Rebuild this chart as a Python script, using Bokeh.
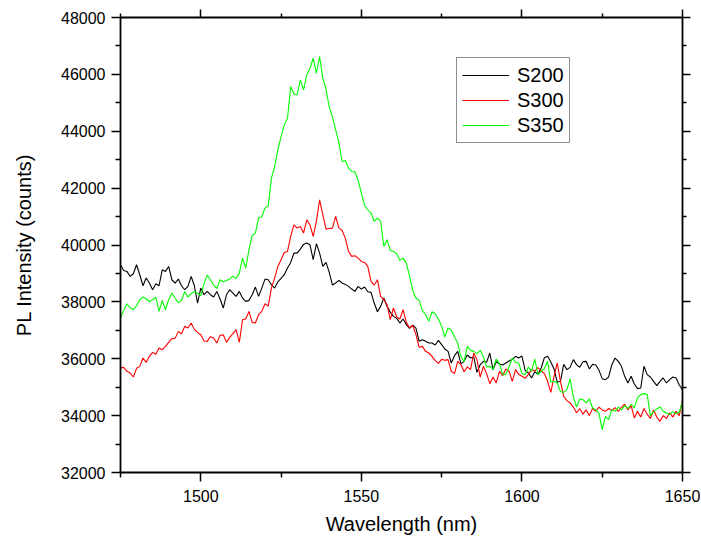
from bokeh.plotting import figure
from bokeh.models import (Range1d, LinearAxis, FixedTicker, Legend, LegendItem,
                          BasicTickFormatter, CustomJSTickFormatter)
from bokeh.embed import file_html
from bokeh.resources import INLINE

# ---------------- data ----------------
wl_first, wl_last = 1475, 1650
wavelength = list(range(wl_first, wl_last + 1))

s200 = [
    39305, 39106, 39071, 38895, 38989, 39305, 38954, 38567, 38837, 38661,
    38427, 38638, 38567, 39129, 39071, 39246, 38778, 38661, 38801, 38567,
    38427, 38544, 38895, 38567, 37958, 38485, 38251, 38368, 38251, 38169,
    38368, 38099, 37783, 38251, 38427, 38310, 38193, 38368, 38134, 38017,
    38052, 38251, 38520, 38193, 38485,
    38802, 38779, 38603, 38486, 38700, 38826, 38955, 39189, 39388, 39716,
    39716, 39856, 40020, 40067, 40008, 39481, 40044, 39716, 39247, 39388,
    39036, 38591, 38662, 38755, 38662, 38615, 38545, 38451, 38369, 38545,
    38451, 38521, 38357, 38334, 37959, 37655, 37842, 38135, 37842, 37631,
    37491, 37420, 37256, 37397,
    37197, 37068, 37185, 37080, 36612, 36670, 36612, 36553, 36553, 36483,
    36647, 36495, 36343, 36261, 35851, 36108, 36261, 35827, 35909, 36131,
    36026, 36061, 35523, 35792, 35909, 35874, 36202, 35616, 35897, 35815,
    35780, 35851, 35921, 35979, 36085, 36026, 36096, 35593, 35499, 35324,
    35546, 35452, 35675, 36038, 36085,
    35886, 35640, 35172, 35207, 35804, 35617, 35698, 35968, 35792, 35700,
    35898, 35909, 35640, 35804, 35780, 35593, 35300, 35265, 35359, 35792,
    36026, 35909, 35734, 35382, 35148, 35382, 35113, 34949, 34972, 35734,
    35441, 35359, 35207, 35055, 35207, 35324, 35148, 35265, 35359, 35324,
    35078, 34914,
]

s300 = [
    35675, 35698, 35558, 35499, 35359, 35663, 35733, 36026, 35874, 36085,
    36225, 36155, 36377, 36319, 36436, 36577, 36705, 36717, 36963, 36881,
    37139, 37080, 37256, 37033, 36928, 36846, 36623, 36612, 36776, 36729,
    36553, 36822, 36846, 36577, 36752, 36881, 37022, 36577, 37373, 37396,
    37666, 37279, 37256, 37549, 37666,
    37936, 37850, 38486, 38837, 39247, 39481, 39739, 39774, 40301, 40711,
    40594, 40652, 40418, 40887, 40711, 40301, 40828, 41589, 41062, 40559,
    40582, 40594, 41004, 40594, 40512, 40243, 39774, 39599, 39622, 39540,
    39423, 39388, 39247, 38720, 38591, 38779, 38193, 38076, 37901, 37374,
    37784, 37467, 37397, 37725,
    37279, 37092, 37174, 36846, 36401, 36436, 36261, 36202, 36085, 35933,
    35839, 35980, 35944, 35968, 35558, 35476, 35909, 35792, 35546, 35710,
    35616, 36202, 35968, 35359, 35733, 35476, 35124, 35359, 35148, 35558,
    35406, 35640, 35558, 35206, 35616, 35452, 35382, 35312, 35452, 35616,
    35569, 35687, 35569, 35476, 35206,
    34820, 35382, 35851, 35207, 34680, 34527, 34446, 34300, 34100, 34250,
    34050, 34200, 34000, 34250, 34150, 34300, 34200, 34150, 34250, 34180,
    34280, 34150, 34300, 34400, 34200, 34350, 33919, 34150, 33950, 34250,
    34050, 33900, 34200, 33950, 33800, 34000, 33900, 34100, 33950, 34150,
    34000, 34550,
]

s350 = [
    37431, 37701, 37935, 37794, 37724, 37865, 38075, 38169, 38110, 38005,
    38075, 38169, 37666, 38052, 37724, 38075, 38310, 38134, 37970, 38052,
    38368, 38169, 38286, 38356, 38310, 38216, 38638, 38942, 38778, 38591,
    38474, 38778, 38708, 38755, 38801, 38907, 38825, 39012, 39539, 39188,
    39832, 40335, 40417, 40944, 41003,
    41297, 41378, 42350, 42760, 43346, 43814, 44224, 44458, 45571, 45313,
    45278, 45805, 45454, 45980, 46215, 46566, 46039, 46625, 45863, 45477,
    44845, 44517, 44048, 43603, 42936, 42971, 42702, 42585, 42573, 42269,
    41823, 41390, 41238, 41132, 40828, 40945, 40828, 39950, 40184, 39809,
    39774, 39692, 39458, 39540,
    39364, 38918, 38403, 38134, 38052, 37701, 37548, 37314, 37654, 37584,
    37396, 37139, 36764, 37080, 37000, 36764, 36553, 36085, 35897, 36436,
    36295, 36260, 36180, 36295, 36061, 35710, 35733, 35640, 35991, 35827,
    35440, 35452, 35710, 36026, 35874, 35851, 35476, 35441, 35710, 35558,
    35991, 35429, 35569, 35663, 35909,
    35172, 35207, 35148, 34844, 34820, 34914, 35289, 34656, 34305, 34586,
    34563, 34446, 34586, 34270, 34211, 34071, 33509, 33977, 33860, 34211,
    34150, 34300, 34200, 34350, 34250, 34400, 34270, 34621, 34738, 34773,
    34750, 34001, 34141, 34235, 34305, 34153, 34094, 34036, 34141, 34071,
    34118, 34504,
]

series_names = ["S200", "S300", "S350"]
series_colors = ["#000000", "#ff0000", "#00ff00"]

x_major_ticks = [1500, 1550, 1600, 1650]
x_minor_ticks = [1475, 1525, 1575, 1625]
y_major_ticks = list(range(32000, 48001, 2000))
y_minor_ticks = list(range(33000, 48000, 2000))

assert len(s200) == len(s300) == len(s350) == len(wavelength)

# ---------------- figure ----------------
FONT = "Liberation Sans"

p = figure(width=700, height=537, output_backend="svg", toolbar_location=None,
           x_range=Range1d(1475, 1650), y_range=Range1d(32000, 48000),
           min_border_left=120, min_border_right=18,
           min_border_top=17, min_border_bottom=65,
           background_fill_color="white", border_fill_color="white")
p.outline_line_color = None
p.grid.visible = False

renderers = []
for ys, c in zip([s200, s300, s350], series_colors):
    r = p.line(wavelength, ys, line_color=c, line_width=1.1)
    renderers.append(r)


def style_axis(ax, major, minor, show_labels):
    ax.ticker = FixedTicker(ticks=major, minor_ticks=minor)
    ax.axis_line_color = "black"
    ax.axis_line_width = 1.8
    ax.major_tick_line_color = "black"
    ax.minor_tick_line_color = "black"
    ax.major_tick_line_width = 1.5
    ax.minor_tick_line_width = 1.5
    ax.major_tick_in = 0
    ax.minor_tick_in = 0
    ax.major_tick_out = 9
    ax.minor_tick_out = 5
    if show_labels:
        ax.major_label_text_font = FONT
        ax.major_label_text_font_size = "16px"
        ax.major_label_text_color = "black"
        ax.axis_label_text_font = FONT
        ax.axis_label_text_font_size = "20px"
        ax.axis_label_text_font_style = "normal"
        ax.axis_label_text_color = "black"
    else:
        ax.formatter = CustomJSTickFormatter(code="return '';")
        ax.major_label_standoff = 0
        ax.major_tick_out = 8
        ax.minor_tick_out = 4


xax = p.xaxis[0]
style_axis(xax, x_major_ticks, x_minor_ticks, True)
xax.axis_label = "Wavelength (nm)"
xax.major_label_standoff = 8
xax.axis_label_standoff = 8

yax = p.yaxis[0]
style_axis(yax, y_major_ticks, y_minor_ticks, True)
yax.formatter = BasicTickFormatter(use_scientific=False)
yax.axis_label = "PL Intensity (counts)"
yax.major_label_standoff = 6
yax.axis_label_standoff = 23

top_ax = LinearAxis()
style_axis(top_ax, x_major_ticks, x_minor_ticks, False)
p.add_layout(top_ax, "above")

right_ax = LinearAxis()
style_axis(right_ax, y_major_ticks, y_minor_ticks, False)
p.add_layout(right_ax, "right")

legend = Legend(
    items=[LegendItem(label=n, renderers=[r]) for n, r in zip(series_names, renderers)],
    location=(336, 329),
    glyph_width=47, glyph_height=24, label_height=24,
    label_standoff=8, padding=5, spacing=1, margin=0,
    label_text_font=FONT, label_text_font_size="20px", label_text_color="black",
    border_line_color="#222222", border_line_width=1,
    background_fill_color="white", background_fill_alpha=1,
)
p.add_layout(legend)

open("out.html", "w").write(file_html(p, INLINE))
